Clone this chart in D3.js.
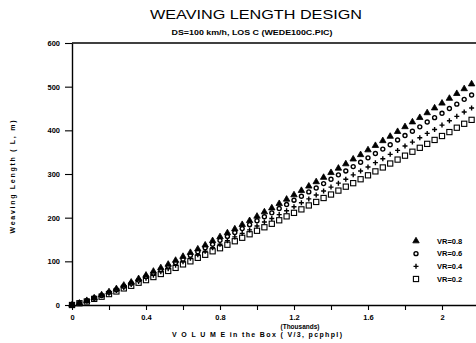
<!DOCTYPE html>
<html>
<head>
<meta charset="utf-8">
<script src="https://cdn.jsdelivr.net/npm/d3@7"></script>
<style>
  body { margin: 0; background: #fff; }
  svg { display: block; font-family: "Liberation Sans", Arial, sans-serif; }
</style>
</head>
<body>
<script>

// Volume in the box (thousands of pcphpl)
var volume = [0, 0.04, 0.08, 0.12, 0.16, 0.2, 0.24, 0.28, 0.32, 0.36,
  0.4, 0.44, 0.48, 0.52, 0.56, 0.6, 0.64, 0.68, 0.72, 0.76,
  0.8, 0.84, 0.88, 0.92, 0.96, 1.0, 1.04, 1.08, 1.12, 1.16,
  1.2, 1.24, 1.28, 1.32, 1.36, 1.4, 1.44, 1.48, 1.52, 1.56,
  1.6, 1.64, 1.68, 1.72, 1.76, 1.8, 1.84, 1.88, 1.92, 1.96,
  2.0, 2.04, 2.08, 2.12, 2.16];

// Weaving length (m) for each volume ratio
var vr08 = [0, 4, 10, 16, 23, 30, 37, 45, 52, 60,
  68, 77, 85, 93, 102, 111, 120, 128, 137, 147,
  156, 165, 174, 184, 193, 203, 213, 222, 232, 242,
  252, 262, 272, 282, 292, 303, 313, 323, 334, 344,
  355, 365, 376, 386, 397, 408, 419, 429, 440, 451,
  462, 473, 484, 495, 506];
var vr06 = [0, 4, 10, 16, 22, 29, 35, 43, 50, 57,
  65, 73, 81, 89, 97, 105, 114, 122, 131, 139,
  148, 157, 166, 175, 184, 193, 202, 211, 221, 230,
  240, 249, 259, 268, 278, 288, 298, 307, 317, 327,
  337, 347, 357, 367, 378, 388, 398, 408, 419, 429,
  439, 450, 460, 471, 481];
var vr04 = [0, 4, 9, 15, 21, 27, 33, 40, 47, 54,
  61, 68, 76, 83, 91, 99, 107, 115, 123, 131,
  139, 147, 156, 164, 172, 181, 190, 198, 207, 216,
  225, 234, 243, 252, 261, 270, 279, 288, 298, 307,
  316, 326, 335, 345, 354, 364, 373, 383, 393, 402,
  412, 422, 432, 442, 451];
var vr02 = [0, 4, 8, 14, 19, 25, 31, 38, 44, 51,
  57, 64, 71, 78, 85, 93, 100, 108, 115, 123,
  130, 138, 146, 154, 162, 170, 178, 186, 194, 203,
  211, 219, 228, 236, 245, 253, 262, 271, 279, 288,
  297, 306, 315, 324, 333, 342, 351, 360, 369, 378,
  387, 396, 406, 415, 424];

var seriesNames = ["VR=0.8", "VR=0.6", "VR=0.4", "VR=0.2"];
var seriesShapes = ["triangle", "circle", "plus", "square"];
var seriesValues = [vr08, vr06, vr04, vr02];

var xTicks = [0, 0.2, 0.4, 0.6, 0.8, 1.0, 1.2, 1.4, 1.6, 1.8, 2.0, 2.2];
var xTickLabels = {"0": "0", "0.4": "0.4", "0.8": "0.8", "1.2": "1.2", "1.6": "1.6", "2": "2"};
var yTicks = [0, 100, 200, 300, 400, 500, 600];

var width = 476, height = 343;

var svg = d3.select("body").append("svg")
    .attr("width", width)
    .attr("height", height);

var x = d3.scaleLinear().domain([0, 2.2]).range([72, 479]);
var y = d3.scaleLinear().domain([0, 600]).range([305, 43]);

// Titles
svg.append("text")
    .attr("x", 256)
    .attr("y", 19)
    .attr("text-anchor", "middle")
    .attr("textLength", 212)
    .attr("lengthAdjust", "spacingAndGlyphs")
    .style("font-family", "Liberation Sans")
    .style("font-size", "13.5px")
    .text("WEAVING LENGTH DESIGN");

svg.append("text")
    .attr("x", 252)
    .attr("y", 35)
    .attr("text-anchor", "middle")
    .attr("textLength", 161)
    .attr("lengthAdjust", "spacingAndGlyphs")
    .style("font-size", "7.5px")
    .style("font-weight", "bold")
    .text("DS=100 km/h, LOS C (WEDE100C.PIC)");

// Top frame line
svg.append("line")
    .attr("x1", x(0))
    .attr("x2", x(2.2))
    .attr("y1", y(600))
    .attr("y2", y(600))
    .style("stroke", "#000")
    .style("stroke-width", 1.4);

// Axes
var yAxis = svg.append("g")
    .attr("transform", "translate(" + x(0) + ",0)")
    .call(d3.axisLeft(y).tickValues(yTicks).tickSize(7).tickSizeOuter(0).tickPadding(5));

var xAxis = svg.append("g")
    .attr("transform", "translate(0," + y(0) + ")")
    .call(d3.axisBottom(x).tickValues(xTicks).tickSize(5).tickSizeOuter(0).tickPadding(5)
      .tickFormat(function(d) { var k = String(+d.toFixed(1)); return xTickLabels[k] || ""; }));

[xAxis, yAxis].forEach(function(a) {
  a.select(".domain").style("stroke-width", 1.4);
  a.selectAll(".tick line").style("stroke-width", 1.1);
  a.selectAll(".tick text")
      .style("font-family", "Liberation Sans")
      .style("font-size", "7.5px")
      .style("font-weight", "bold")
      .style("fill", "#000");
});

// Axis titles
svg.append("text")
    .attr("transform", "translate(15,177) rotate(-90)")
    .attr("text-anchor", "middle")
    .attr("textLength", 113)
    .attr("lengthAdjust", "spacing")
    .style("font-size", "7px")
    .style("font-weight", "bold")
    .text("Weaving  Length  ( L,  m)");

svg.append("text")
    .attr("x", 300)
    .attr("y", 329)
    .attr("text-anchor", "middle")
    .style("font-size", "6.5px")
    .style("font-weight", "bold")
    .text("(Thousands)");

svg.append("text")
    .attr("x", 257)
    .attr("y", 337)
    .attr("text-anchor", "middle")
    .attr("textLength", 170)
    .attr("lengthAdjust", "spacing")
    .style("font-size", "7px")
    .style("font-weight", "bold")
    .text("V O L U M E   in the Box ( V/3, pcphpl)");

// Marker drawing
function drawMarker(g, shape) {
  if (shape == "triangle") {
    g.append("path")
        .attr("d", d3.symbol().type(d3.symbolTriangle).size(18)())
        .style("fill", "#000")
        .style("stroke", "#000")
        .style("stroke-width", 0.8);
  } else if (shape == "circle") {
    g.append("circle")
        .attr("r", 2)
        .style("fill", "#fff")
        .style("stroke", "#000")
        .style("stroke-width", 1.4);
  } else if (shape == "plus") {
    g.append("path")
        .attr("d", "M-2.5,0H2.5M0,-2.5V2.5")
        .style("stroke", "#000")
        .style("stroke-width", 1.4);
  } else {
    g.append("rect")
        .attr("x", -2.6)
        .attr("y", -2.6)
        .attr("width", 5.2)
        .attr("height", 5.2)
        .style("fill", "#fff")
        .style("stroke", "#000")
        .style("stroke-width", 1.1);
  }
}

// Draw series, lowest first so upper ones sit on top
for (var s = seriesValues.length - 1; s >= 0; s--) {
  var vals = seriesValues[s];
  var shape = seriesShapes[s];
  svg.append("g").selectAll("g")
      .data(volume)
      .enter().append("g")
      .attr("transform", function(d, i) { return "translate(" + x(d) + "," + y(vals[i]) + ")"; })
      .each(function() { drawMarker(d3.select(this), shape); });
}

// Legend
var legendY = d3.scalePoint().domain(seriesNames).range([241, 279]);
seriesNames.forEach(function(name, i) {
  var g = svg.append("g").attr("transform", "translate(416," + legendY(name) + ")");
  drawMarker(g, seriesShapes[i]);
  svg.append("text")
      .attr("x", 437)
      .attr("y", legendY(name) + 2.5)
      .style("font-size", "7.5px")
      .style("font-weight", "bold")
      .text(name);
});

</script>
</body>
</html>
